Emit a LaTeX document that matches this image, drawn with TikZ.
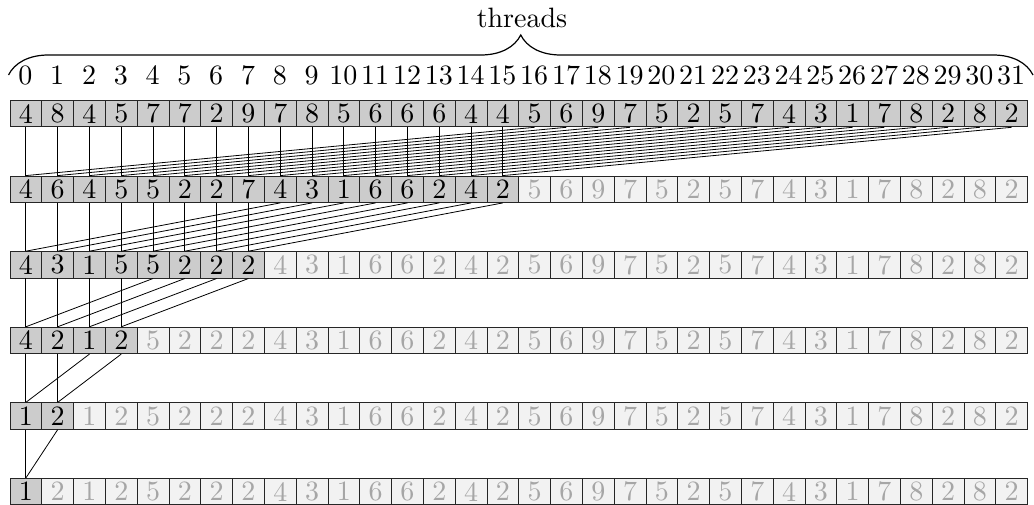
\documentclass[tikz,border=0pt]{standalone}
\usepackage{fontspec}
\setmainfont{lmroman10-regular.otf}
\usetikzlibrary{decorations.pathreplacing}
\begin{document}
\begin{tikzpicture}[x=1pt,y=-1pt,
  cellbase/.style={draw=black!85, line width=0.9pt, minimum width=31.8pt, minimum height=26.4pt, inner sep=0pt, anchor=north west, font=\fontsize{28}{32}\selectfont},
  active/.style={cellbase, fill=black!20, text=black},
  inactive/.style={cellbase, fill=black!5, text=black!35},
  lbl/.style={anchor=base, inner sep=0pt, font=\fontsize{28}{32}\selectfont},
  link/.style={line width=0.8pt, draw=black},
  bracestyle/.style={decorate, decoration={brace, amplitude=40pt}, line width=1.2pt}]
\useasboundingbox (0,0) rectangle (1034,505);
% thread labels
\foreach \i in {0,...,31} {
  \node[lbl] (t-\i) at ({25.4+31.8*\i}, 85) {\i};
}
\coordinate (bl) at (8.5,75);
\coordinate (br) at (1033,75);
\draw[bracestyle] (bl) -- (br);
\node[lbl] (thr) at (522,27.3) {threads};
% cells
\foreach \k/\nn/\vals in {
  0/32/{4,8,4,5,7,7,2,9,7,8,5,6,6,6,4,4,5,6,9,7,5,2,5,7,4,3,1,7,8,2,8,2},
  1/16/{4,6,4,5,5,2,2,7,4,3,1,6,6,2,4,2,5,6,9,7,5,2,5,7,4,3,1,7,8,2,8,2},
  2/8/{4,3,1,5,5,2,2,2,4,3,1,6,6,2,4,2,5,6,9,7,5,2,5,7,4,3,1,7,8,2,8,2},
  3/4/{4,2,1,2,5,2,2,2,4,3,1,6,6,2,4,2,5,6,9,7,5,2,5,7,4,3,1,7,8,2,8,2},
  4/2/{1,2,1,2,5,2,2,2,4,3,1,6,6,2,4,2,5,6,9,7,5,2,5,7,4,3,1,7,8,2,8,2},
  5/1/{1,2,1,2,5,2,2,2,4,3,1,6,6,2,4,2,5,6,9,7,5,2,5,7,4,3,1,7,8,2,8,2}} {
  \foreach \v [count=\i from 0] in \vals {
    \ifnum\i<\nn\relax \def\cst{active}\else\def\cst{inactive}\fi
    \node[\cst] (c-\k-\i) at ({9.5+31.8*\i}, {100+75.6*\k}) {\v};
  }
}
% connectors
\foreach \k/\h in {0/16,1/8,2/4,3/2,4/1} {
  \pgfmathtruncatemacro\kk{\k+1}
  \pgfmathtruncatemacro\hm{\h-1}
  \foreach \i in {0,...,\hm} {
    \pgfmathtruncatemacro\j{\i+\h}
    \draw[link] (c-\k-\i.south) -- (c-\kk-\i.north);
    \draw[link] (c-\k-\j.south) -- (c-\kk-\i.north);
  }
}
\end{tikzpicture}
\end{document}
